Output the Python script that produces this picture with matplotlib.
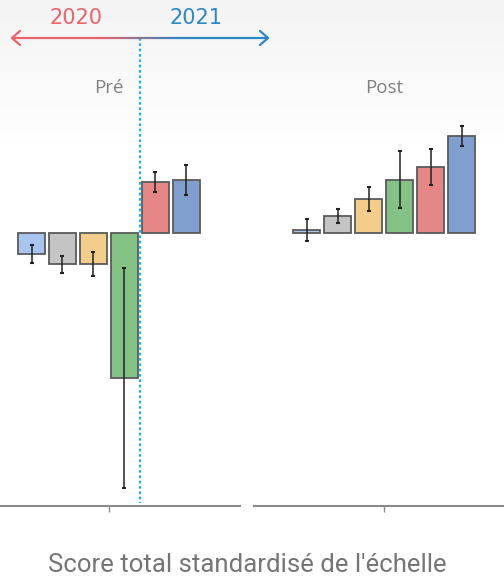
import numpy as np
import matplotlib
matplotlib.use("Agg")
import matplotlib.pyplot as plt
from matplotlib.collections import LineCollection

# ---- data (standardised score units) ----
groups = ["Pré", "Post"]
series_colors = ["#a9c4ee", "#c4c4c4", "#f3cd8c", "#84c184", "#e58787", "#819fce"]
pre_values = [-0.21, -0.31, -0.31, -1.45, 0.51, 0.53]
pre_errors = [0.09, 0.085, 0.12, 1.10, 0.10, 0.15]
post_values = [0.03, 0.17, 0.34, 0.535, 0.665, 0.97]
post_errors = [0.11, 0.07, 0.12, 0.285, 0.18, 0.10]
xlabel = "Score total standardisé de l'échelle"
year_left, year_right = "2020", "2021"

W, H = 504, 578
fig = plt.figure(figsize=(W / 100, H / 100), dpi=100)

# subtle background gradient at top
bg = fig.add_axes([0, 0, 1, 1], zorder=-10)
grad = np.linspace(0, 1, 256).reshape(-1, 1)
bg.imshow(np.dstack([np.interp(grad, [0, 0.25, 1], [0.955, 1, 1])] * 3),
          aspect="auto", extent=[0, 1, 0, 1], origin="upper")
bg.axis("off")

ybot, ytop = 506, 100
ymin = -2.73
ymax = 1.33

def px_axes(x0, x1):
    return fig.add_axes([x0 / W, 1 - ybot / H, (x1 - x0) / W, (ybot - ytop) / H])

spacing = 31.0
offsets = (np.arange(6) - 2.5)

panels = [
    (0, 240, 109, pre_values, pre_errors, groups[0]),
    (254, 504, 384, post_values, post_errors, groups[1]),
]
for x0, x1, cx, vals, errs, name in panels:
    ax = px_axes(x0, x1)
    ax.set_facecolor("none")
    ax.set_xlim((x0 - cx) / spacing, (x1 - cx) / spacing)
    ax.set_ylim(ymin, ymax)
    ax.bar(offsets, vals, width=0.84, color=series_colors,
           edgecolor="#5a5a5a", linewidth=1.3, zorder=2)
    ax.errorbar(offsets, vals, yerr=errs, fmt="none", ecolor="#222222",
                elinewidth=1.1, capsize=1.2, capthick=1.5, zorder=3)
    for s in ["top", "right", "left"]:
        ax.spines[s].set_visible(False)
    ax.spines["bottom"].set_color("#8a8a8a")
    ax.spines["bottom"].set_linewidth(1.5)
    ax.set_yticks([])
    ax.set_xticks([0])
    ax.set_xticklabels([""])
    ax.tick_params(axis="x", length=4, width=1, color="#8a8a8a")

# overlay for decorations in pixel coordinates
ov = fig.add_axes([0, 0, 1, 1], zorder=10)
ov.set_xlim(0, W)
ov.set_ylim(H, 0)
ov.axis("off")

ov.text(109, 88, groups[0], ha="center", va="center", fontsize=13.5,
        color="#808080", family="Open Sans")
ov.text(384, 88, groups[1], ha="center", va="center", fontsize=13.5,
        color="#808080", family="Open Sans")

# dotted vertical divider
ov.plot([140, 140], [38, 503], color="#19b4ee", linestyle=(0, (1.2, 1.2)),
        linewidth=1.6)

# gradient arrow
c_red = np.array(matplotlib.colors.to_rgb("#e8636b"))
c_blue = np.array(matplotlib.colors.to_rgb("#2f86c4"))
xs = np.linspace(12, 268, 200)
segs = [[(xs[i], 38), (xs[i + 1], 38)] for i in range(len(xs) - 1)]
t = np.clip((xs[:-1] - 100) / 80, 0, 1)
cols = [tuple(c_red * (1 - ti) + c_blue * ti) for ti in t]
ov.add_collection(LineCollection(segs, colors=cols, linewidths=1.6))
ov.plot([20, 12, 20], [31, 38, 45], color=c_red, linewidth=1.6,
        solid_capstyle="round", solid_joinstyle="miter")
ov.plot([260, 268, 260], [31, 38, 45], color=c_blue, linewidth=1.6,
        solid_capstyle="round", solid_joinstyle="miter")
ov.text(76, 18, year_left, ha="center", va="center", fontsize=15,
        color="#e8636b", family="DejaVu Sans")
ov.text(196, 18, year_right, ha="center", va="center", fontsize=15,
        color="#2f86c4", family="DejaVu Sans")

ov.text(247, 565, xlabel, ha="center", va="center", fontsize=18.5,
        color="#757575", family="Roboto")

fig.savefig("out.png", dpi=100)
